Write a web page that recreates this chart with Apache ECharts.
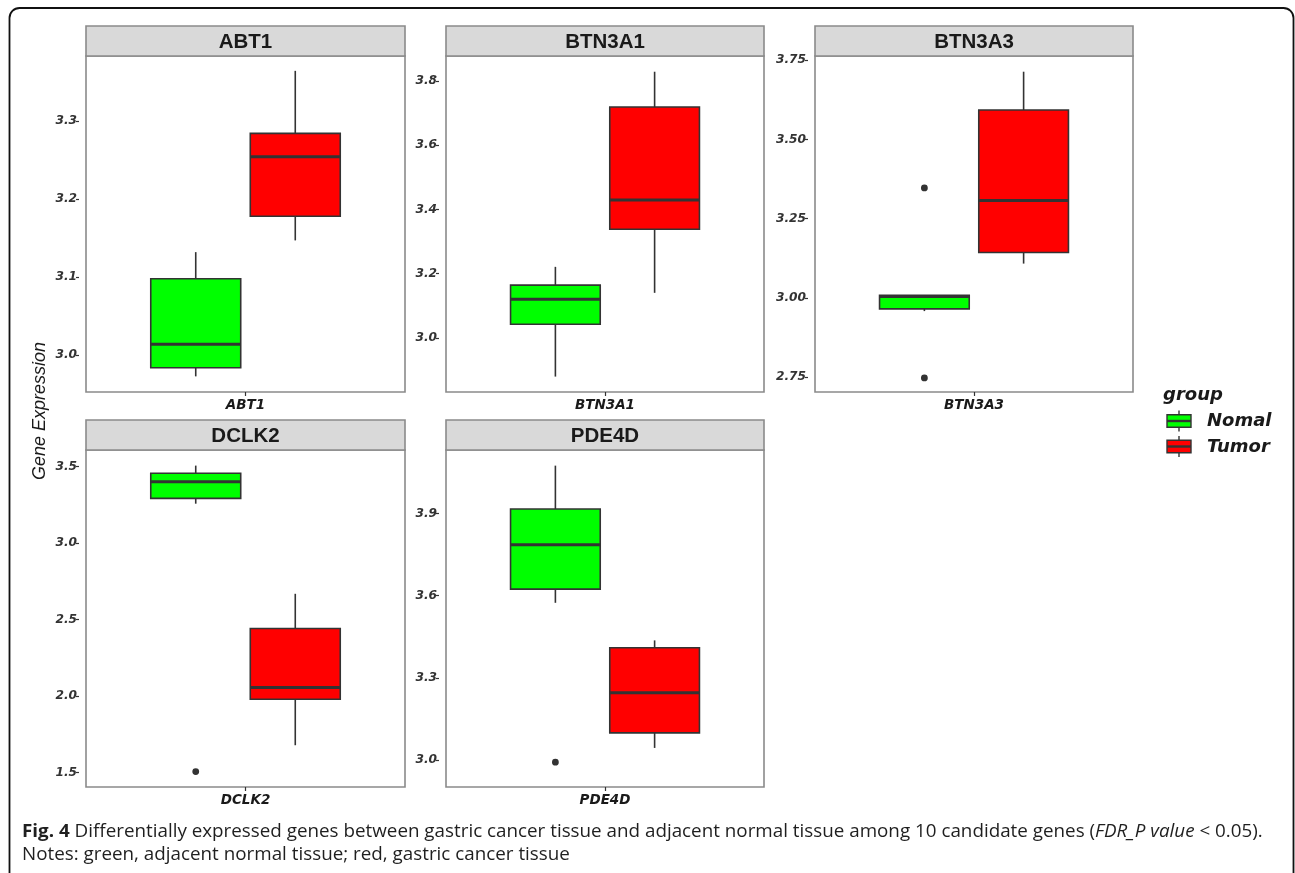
<!DOCTYPE html>
<html>
<head>
<meta charset="utf-8">
<title>Gene Expression</title>
<script src="https://cdn.jsdelivr.net/npm/echarts@6/dist/echarts.min.js"></script>
<style>
  html, body { margin: 0; padding: 0; background: #ffffff; }
  #chart { width: 1295px; height: 873px; }
</style>
</head>
<body>
<div id="chart"></div>
<script>
// ---- data -------------------------------------------------------------
const genes = ['ABT1', 'BTN3A1', 'BTN3A3', 'DCLK2', 'PDE4D'];
const groups = ['Nomal', 'Tumor'];

// five-number summaries per gene: [lower whisker, Q1, median, Q3, upper whisker]
const nomalStats = [
  [2.973, 2.984, 3.014, 3.098, 3.132],
  [2.879, 3.042, 3.120, 3.164, 3.221],
  [2.958, 2.965, 3.004, 3.008, 3.008],
  [3.258, 3.293, 3.402, 3.457, 3.507],
  [3.574, 3.624, 3.786, 3.916, 4.074]
];
const tumorStats = [
  [3.147, 3.178, 3.254, 3.284, 3.364],
  [3.140, 3.338, 3.429, 3.719, 3.829],
  [3.108, 3.143, 3.307, 3.593, 3.714],
  [1.679, 1.980, 2.056, 2.442, 2.669],
  [3.045, 3.100, 3.246, 3.410, 3.437]
];
// points beyond the whiskers
const nomalOutliers = [[], [], [3.347, 2.747], [1.507], [2.993]];
const tumorOutliers = [[], [], [], [], []];

// free y scales per facet
const yMin = [2.953, 2.831, 2.7025, 1.406, 2.9026];
const yMax = [3.383, 3.878, 3.7636, 3.609, 4.131];
const yTicks = [
  [3.0, 3.1, 3.2, 3.3],
  [3.0, 3.2, 3.4, 3.6, 3.8],
  [2.75, 3.0, 3.25, 3.5, 3.75],
  [1.5, 2.0, 2.5, 3.0, 3.5],
  [3.0, 3.3, 3.6, 3.9]
];
const yDecimals = [1, 1, 2, 1, 1];

const captionLine1 = ['Fig. 4', ' Differentially expressed genes between gastric cancer tissue and adjacent normal tissue among 10 candidate genes (', 'FDR_P value', ' < 0.05).'];
const captionLine2 = 'Notes: green, adjacent normal tissue; red, gastric cancer tissue';
const yTitle = 'Gene Expression';
const legendTitle = 'group';

// ---- layout & style ---------------------------------------------------
const FILL = ['#00ff00', '#ff0000'];
const EDGE = '#333333';
const FRAME = '#8a8a8a';
const DODGE = 0.156;   // box centre offset, fraction of panel width
const HALF = 0.141;    // half box width, fraction of panel width
const TICK_FONT = '"DejaVu Sans", "Liberation Sans", sans-serif';
const STRIP_FONT = '"Liberation Sans", Arial, sans-serif';

const panelRects = [
  { left: 86,  top: 56,  width: 319, height: 336 },
  { left: 446, top: 56,  width: 318, height: 336 },
  { left: 815, top: 56,  width: 318, height: 336 },
  { left: 86,  top: 450, width: 319, height: 337 },
  { left: 446, top: 450, width: 318, height: 337 }
];
const STRIP_H = 30;

function renderBox(params, api) {
  const g = api.value(1);
  const bw = api.size([1, 0])[0];
  const base = api.coord([0, api.value(4)]);
  const cx = base[0] + (g === 0 ? -1 : 1) * DODGE * bw;
  const hw = HALF * bw;
  const yLo = api.coord([0, api.value(2)])[1];
  const yQ1 = api.coord([0, api.value(3)])[1];
  const yMed = base[1];
  const yQ3 = api.coord([0, api.value(5)])[1];
  const yHi = api.coord([0, api.value(6)])[1];
  const line = { stroke: EDGE, lineWidth: 1.6 };
  return {
    type: 'group',
    children: [
      { type: 'line', shape: { x1: cx, y1: yHi, x2: cx, y2: yQ3 }, style: line },
      { type: 'line', shape: { x1: cx, y1: yQ1, x2: cx, y2: yLo }, style: line },
      { type: 'rect', shape: { x: cx - hw, y: yQ3, width: 2 * hw, height: yQ1 - yQ3 },
        style: { fill: FILL[g], stroke: EDGE, lineWidth: 1.6 } },
      { type: 'line', shape: { x1: cx - hw, y1: yMed, x2: cx + hw, y2: yMed },
        style: { stroke: EDGE, lineWidth: 3 } }
    ]
  };
}

function renderOutlier(params, api) {
  const g = api.value(1);
  const bw = api.size([1, 0])[0];
  const p = api.coord([0, api.value(2)]);
  const cx = p[0] + (g === 0 ? -1 : 1) * DODGE * bw;
  return { type: 'circle', shape: { cx: cx, cy: p[1], r: 3.4 }, style: { fill: EDGE } };
}

const grid = [], xAxis = [], yAxis = [], series = [], graphics = [];

genes.forEach(function (gene, i) {
  const r = panelRects[i];
  grid.push({
    left: r.left, top: r.top, width: r.width, height: r.height,
    show: true, backgroundColor: '#ffffff', borderColor: FRAME, borderWidth: 1.6
  });
  xAxis.push({
    type: 'category', gridIndex: i, data: [gene],
    axisLine: { show: false },
    axisTick: { show: true, alignWithLabel: true, length: 4, lineStyle: { color: EDGE, width: 1.2 } },
    axisLabel: { margin: 6, color: '#1a1a1a', fontFamily: TICK_FONT, fontSize: 13.5,
                 fontWeight: 'bold', fontStyle: 'italic' },
    splitLine: { show: false }
  });
  yAxis.push({
    type: 'value', gridIndex: i, min: yMin[i], max: yMax[i], offset: 7,
    axisLine: { show: false },
    splitLine: { show: false },
    axisTick: { show: true, length: 3, customValues: yTicks[i], lineStyle: { color: EDGE, width: 1.2 } },
    axisLabel: {
      customValues: yTicks[i], margin: 2, color: '#333333', fontFamily: TICK_FONT,
      fontSize: 12.2, fontWeight: 'bold', fontStyle: 'italic',
      formatter: (function (d) { return function (v) { return Number(v).toFixed(d); }; })(yDecimals[i])
    }
  });

  const boxData = [
    [0, 0].concat(nomalStats[i]),
    [0, 1].concat(tumorStats[i])
  ];
  series.push({
    type: 'custom', name: gene, xAxisIndex: i, yAxisIndex: i,
    renderItem: renderBox, data: boxData, clip: false, z: 3
  });
  const outData = [];
  nomalOutliers[i].forEach(function (v) { outData.push([0, 0, v]); });
  tumorOutliers[i].forEach(function (v) { outData.push([0, 1, v]); });
  series.push({
    type: 'custom', name: gene + ' outliers', xAxisIndex: i, yAxisIndex: i,
    renderItem: renderOutlier, data: outData, clip: false, z: 4
  });

  // facet strip
  graphics.push({
    type: 'rect', z: 10,
    shape: { x: r.left, y: r.top - STRIP_H, width: r.width, height: STRIP_H },
    style: { fill: '#d9d9d9', stroke: FRAME, lineWidth: 1.6 }
  });
  graphics.push({
    type: 'text', z: 11,
    style: { text: gene, x: r.left + r.width / 2, y: r.top - STRIP_H / 2 + 1,
             align: 'center', verticalAlign: 'middle',
             fontFamily: STRIP_FONT, fontSize: 20.5, fontWeight: 'bold', fill: '#1a1a1a' }
  });
});

// outer figure frame
graphics.push({
  type: 'rect', z: 0,
  shape: { x: 9.5, y: 8, width: 1284, height: 900, r: [10, 10, 0, 0] },
  style: { fill: null, stroke: '#111111', lineWidth: 1.8 }
});

// y axis title
graphics.push({
  type: 'text', z: 11, x: 40, y: 411, rotation: Math.PI / 2,
  style: { text: yTitle, x: 0, y: 0, align: 'center', verticalAlign: 'middle',
           fontFamily: STRIP_FONT, fontSize: 18, fontStyle: 'italic', fill: '#1a1a1a' }
});

// legend
const LEG_FONT = { fontFamily: TICK_FONT, fontSize: 18, fontWeight: 'bold', fontStyle: 'italic', fill: '#1a1a1a' };
graphics.push({
  type: 'text', z: 11,
  style: Object.assign({ text: legendTitle, x: 1163, y: 395, align: 'left', verticalAlign: 'middle' }, LEG_FONT)
});
groups.forEach(function (name, g) {
  const cy = 421 + g * 25.5;
  graphics.push({ type: 'line', z: 11, shape: { x1: 1179, y1: cy - 10.5, x2: 1179, y2: cy + 10.5 },
                  style: { stroke: EDGE, lineWidth: 1.4 } });
  graphics.push({ type: 'rect', z: 12, shape: { x: 1167, y: cy - 6.3, width: 24, height: 12.6 },
                  style: { fill: FILL[g], stroke: EDGE, lineWidth: 1.4 } });
  graphics.push({ type: 'line', z: 13, shape: { x1: 1167, y1: cy, x2: 1191, y2: cy },
                  style: { stroke: EDGE, lineWidth: 2.4 } });
  graphics.push({
    type: 'text', z: 11,
    style: Object.assign({ text: name, x: 1207, y: cy + 0.5, align: 'left', verticalAlign: 'middle' }, LEG_FONT)
  });
});

// caption
const CAP_FONT = '"Open Sans", "Liberation Sans", sans-serif';
const CAP_SIZE = 18;
const CAP_STRETCH = 1.045;
graphics.push({
  type: 'text', z: 11, x: 22, y: 832, scaleX: CAP_STRETCH,
  style: {
    text: '{b|' + captionLine1[0] + '}{r|' + captionLine1[1] + '}{i|' + captionLine1[2] + '}{r|' + captionLine1[3] + '}',
    x: 0, y: 0, align: 'left', verticalAlign: 'middle',
    fontFamily: CAP_FONT, fontSize: CAP_SIZE, fill: '#1f1f1f',
    rich: {
      b: { fontFamily: CAP_FONT, fontSize: CAP_SIZE, fontWeight: 'bold', fill: '#1f1f1f' },
      r: { fontFamily: CAP_FONT, fontSize: CAP_SIZE, fontWeight: 'normal', fill: '#1f1f1f' },
      i: { fontFamily: CAP_FONT, fontSize: CAP_SIZE, fontStyle: 'italic', fill: '#1f1f1f' }
    }
  }
});
graphics.push({
  type: 'text', z: 11, x: 22, y: 855, scaleX: CAP_STRETCH,
  style: { text: captionLine2, x: 0, y: 0, align: 'left', verticalAlign: 'middle',
           fontFamily: CAP_FONT, fontSize: CAP_SIZE, fill: '#1f1f1f' }
});

const chart = echarts.init(document.getElementById('chart'), null, { renderer: 'canvas' });
chart.setOption({
  animation: false,
  backgroundColor: '#ffffff',
  grid: grid,
  xAxis: xAxis,
  yAxis: yAxis,
  series: series,
  graphic: graphics
});
</script>
</body>
</html>
